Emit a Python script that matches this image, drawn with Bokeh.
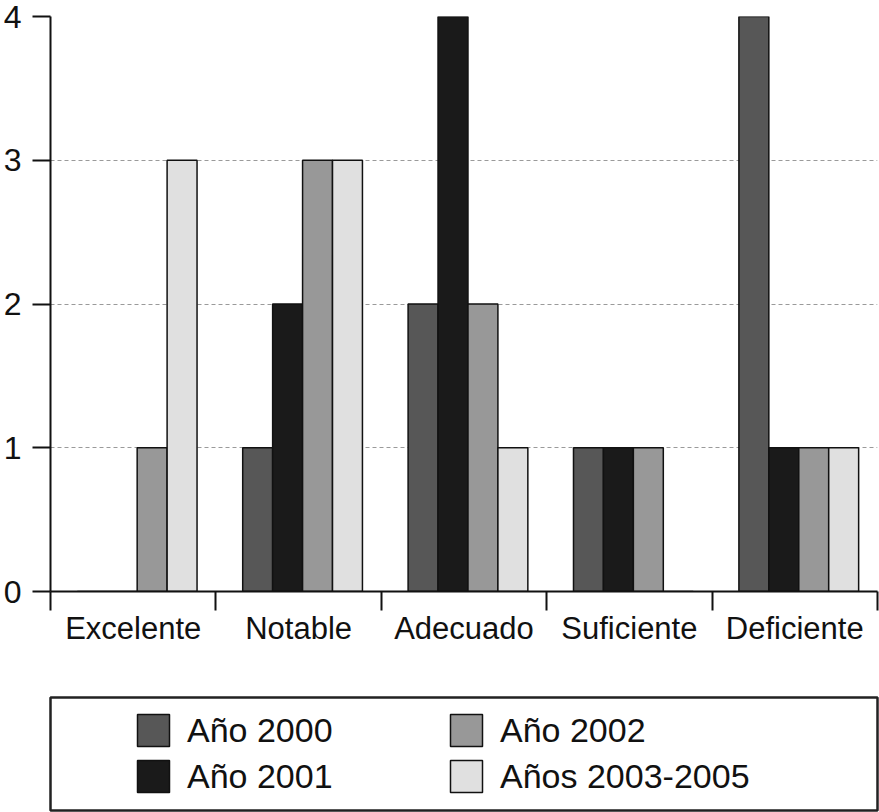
import numpy as np
from bokeh.plotting import figure
from bokeh.models import Range1d, FixedTicker, Legend, LegendItem, ColumnDataSource
from bokeh.layouts import column
from bokeh.embed import file_html
from bokeh.resources import INLINE

# ---- data ----
categories = ["Excelente", "Notable", "Adecuado", "Suficiente", "Deficiente"]
series = ["Año 2000", "Año 2001", "Año 2002", "Años 2003-2005"]
v2000 = [0, 1, 2, 1, 4]
v2001 = [0, 2, 4, 1, 1]
v2002 = [1, 3, 2, 1, 1]
v2003_2005 = [3, 3, 1, 0, 1]
y_ticks = [0, 1, 2, 3, 4]

# ---- style ----
colors = ["#575757", "#1a1a1a", "#989898", "#e0e0e0"]
FONT = "Liberation Sans"
INK = "#111111"
W = 879
BAR_W = 0.181
SHIFT = 0.024

values = [v2000, v2001, v2002, v2003_2005]
idx = np.arange(len(categories))

p = figure(width=W, height=696, output_backend="svg", toolbar_location=None,
           x_range=Range1d(-0.5, len(categories) - 0.5), y_range=Range1d(0, 4),
           min_border_left=50, min_border_right=2, min_border_top=16,
           min_border_bottom=105)
p.outline_line_color = None
p.background_fill_color = "white"
p.border_fill_color = "white"
p.xgrid.visible = False

for i, (vals, c) in enumerate(zip(values, colors)):
    xs = [float(k + (i - 1.5) * BAR_W + SHIFT) for k in idx]
    p.vbar(x=xs, top=vals, bottom=0, width=BAR_W, fill_color=c,
           line_color=INK, line_width=1.5)

xa = p.xaxis[0]
xa.ticker = FixedTicker(ticks=[float(k) for k in idx],
                        minor_ticks=[float(k) - 0.5 for k in range(len(categories) + 1)])
xa.major_label_overrides = {int(k): c for k, c in zip(idx, categories)}
xa.major_tick_line_color = None
xa.major_tick_out = 19
xa.major_tick_in = 0
xa.minor_tick_out = 19
xa.minor_tick_in = 0
xa.minor_tick_line_color = INK
xa.minor_tick_line_width = 2
xa.axis_line_color = INK
xa.axis_line_width = 2
xa.major_label_standoff = 0
xa.major_label_text_font = FONT
xa.major_label_text_font_size = "31px"
xa.major_label_text_color = INK

ya = p.yaxis[0]
ya.ticker = FixedTicker(ticks=y_ticks)
ya.major_tick_out = 18
ya.major_tick_in = 0
ya.major_tick_line_color = INK
ya.major_tick_line_width = 2
ya.minor_tick_line_color = None
ya.axis_line_color = INK
ya.axis_line_width = 2
ya.major_label_standoff = 11
ya.major_label_text_font = FONT
ya.major_label_text_font_size = "32px"
ya.major_label_text_color = INK

p.ygrid.ticker = FixedTicker(ticks=y_ticks)
p.ygrid.grid_line_color = "#9a9a9a"
p.ygrid.grid_line_dash = "4 3"
p.ygrid.grid_line_width = 1

# ---- legend panel ----
lg = figure(width=W, height=116, output_backend="svg", toolbar_location=None,
            x_range=Range1d(0, 1), y_range=Range1d(0, 1),
            x_axis_location=None, y_axis_location=None,
            min_border_left=50, min_border_right=2, min_border_top=1,
            min_border_bottom=2)
lg.xgrid.visible = False
lg.ygrid.visible = False
lg.outline_line_color = "#222222"
lg.outline_line_width = 2.5
lg.background_fill_color = "white"
lg.border_fill_color = "white"

items = []
for s, c in zip(series, colors):
    proxy = ColumnDataSource(data=dict(x=[np.nan], top=[np.nan]))
    r = lg.vbar(x="x", top="top", width=0.1, source=proxy, fill_color=c,
                line_color=INK, line_width=1.5)
    items.append(LegendItem(label=s, renderers=[r]))

legend = Legend(items=items, ncols=2, location=(83, 14), padding=0, margin=0,
                spacing=6, glyph_width=40, glyph_height=40, label_height=40,
                label_width=253, label_standoff=14,
                label_text_font=FONT, label_text_font_size="34px",
                label_text_color=INK, border_line_color=None,
                background_fill_alpha=0)
lg.add_layout(legend)

layout = column(p, lg, spacing=0)
open("out.html", "w").write(file_html(layout, INLINE))
